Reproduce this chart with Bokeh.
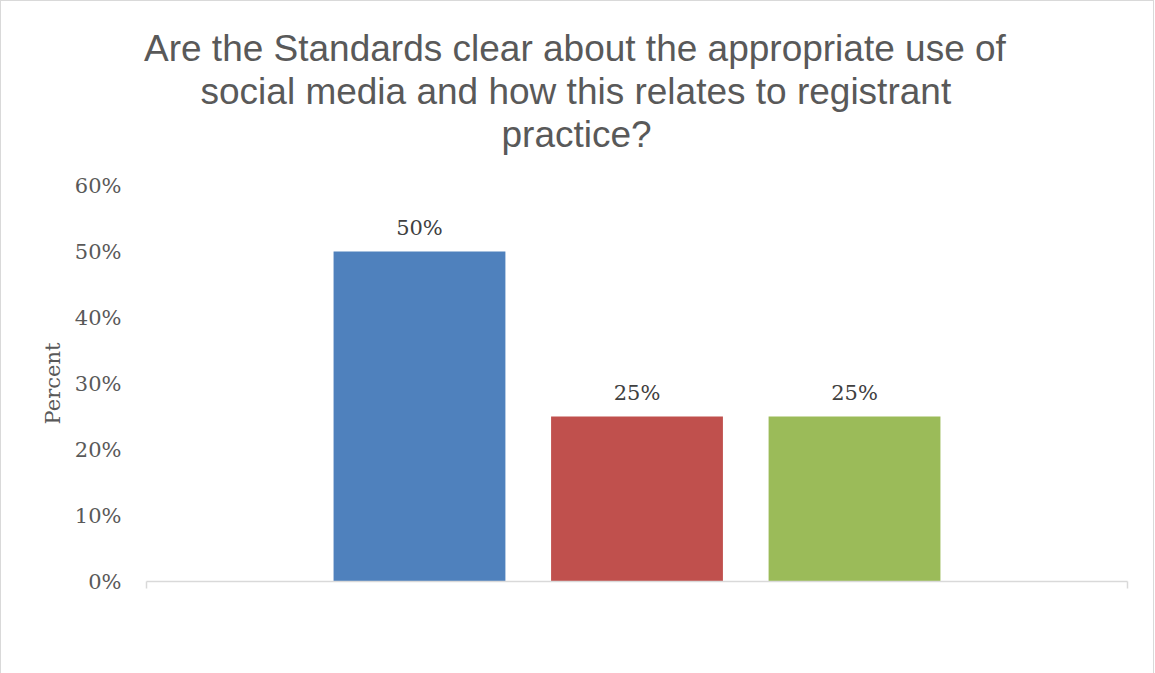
from bokeh.plotting import figure
from bokeh.models import (ColumnDataSource, Range1d, LinearAxis, FixedTicker, Title,
                          NumeralTickFormatter, LabelSet, Legend, LegendItem)
from bokeh.core.properties import value
from bokeh.embed import file_html
from bokeh.resources import INLINE

# ---- data ----
title_lines = [
    "Are the Standards clear about the appropriate use of",
    "social media and how this relates to registrant",
    "practice?",
]
categories = ["Yes", "Somewhat", "No"]
values = [0.50, 0.25, 0.25]
value_labels = ["50%", "25%", "25%"]
colors = ["#4F81BD", "#C0504D", "#9BBB59"]
y_ticks = [0.0, 0.1, 0.2, 0.3, 0.4, 0.5, 0.6]
y_label = "Percent"

SERIF = "DejaVu Serif"
SANS = "Liberation Sans"
GREY = "#595959"

xpos = list(range(len(categories)))
X0, X1 = -1.255, len(categories) - 1 + 1.255

src = ColumnDataSource(dict(x=xpos, cat=categories, val=values, color=colors, label=value_labels))

p = figure(
    frame_width=981, frame_height=396,
    x_range=Range1d(X0, X1),
    y_range=Range1d(0, 0.6),
    output_backend="svg", toolbar_location=None,
    x_axis_location=None,
    min_border_left=145, min_border_right=26, min_border_top=184, min_border_bottom=84,
    background_fill_color="white", border_fill_color="white",
    styles={"border": "1px solid #D9D9D9"},
)
p.outline_line_color = None
p.grid.visible = False

# invisible spacer axis between the plot frame and the title block
p.add_layout(LinearAxis(ticker=FixedTicker(ticks=[X0]), axis_line_color=None,
                        major_tick_line_color=None, minor_tick_line_color=None,
                        major_tick_out=31, major_tick_in=0, major_label_standoff=0,
                        major_label_overrides={X0: ""}, major_label_text_font_size="1px"),
             "above")

# title lines, centred on the whole chart (left offsets relative to the frame)
line_offsets = [-2.5, 54, 355]
for line, off in reversed(list(zip(title_lines, line_offsets))):
    p.add_layout(Title(text=line, align="left", offset=off, vertical_align="bottom",
                       standoff=0, text_font=SANS, text_font_size="37px",
                       text_font_style="normal", text_color=GREY), "above")

# bars
r = p.vbar(x="x", top="val", width=0.79, fill_color="color", line_color=None, source=src)

# bottom axis: line with end ticks only
xax = LinearAxis(ticker=FixedTicker(ticks=[X0, X1]),
                 axis_line_color="#D9D9D9", axis_line_width=1.5,
                 major_tick_line_color="#D9D9D9", major_tick_line_width=1.5,
                 major_tick_out=7, major_tick_in=0,
                 minor_tick_line_color=None,
                 major_label_overrides={X0: "", X1: ""},
                 major_label_text_font_size="1px", major_label_standoff=0)
p.add_layout(xax, "below")

# y axis
yax = p.yaxis[0]
yax.ticker = FixedTicker(ticks=y_ticks)
yax.formatter = NumeralTickFormatter(format="0%")
yax.axis_line_color = None
yax.major_tick_line_color = None
yax.minor_tick_line_color = None
yax.major_tick_out = 0
yax.major_label_standoff = 25
yax.major_label_text_font = SERIF
yax.major_label_text_font_size = "21px"
yax.major_label_text_color = GREY
yax.axis_label = y_label
yax.axis_label_text_font = SERIF
yax.axis_label_text_font_size = "21px"
yax.axis_label_text_font_style = "normal"
yax.axis_label_text_color = GREY
yax.axis_label_standoff = 7

# data labels
p.add_layout(LabelSet(x="x", y="val", text="label", source=src, y_offset=17,
                      text_align="center", text_baseline="alphabetic",
                      text_font=value(SERIF), text_font_size="21px", text_color="#404040"))

# legend below the frame
legend = Legend(
    items=[LegendItem(label=c, renderers=[r], index=i) for i, c in enumerate(categories)],
    orientation="horizontal", location="center",
    label_text_font=SERIF, label_text_font_size="21px", label_text_color=GREY,
    glyph_width=12, glyph_height=12, label_standoff=5, spacing=19,
    padding=0, margin=25, border_line_color=None, background_fill_alpha=0,
)
p.add_layout(legend, "below")

open("out.html", "w").write(file_html(p, INLINE))
